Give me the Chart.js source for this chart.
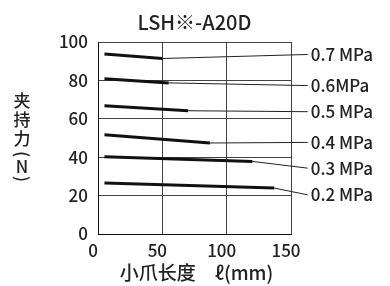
<!DOCTYPE html>
<html>
<head>
<meta charset="utf-8">
<script src="https://cdn.jsdelivr.net/npm/chart.js@4"></script>
<style>
html,body{margin:0;padding:0;background:#fff;}
#wrap{width:390px;height:286px;position:relative;}
</style>
</head>
<body>
<div id="wrap"><canvas id="c" width="390" height="286"></canvas></div>
<script>
// ---- data ----
const chartTitle = 'LSH※-A20D';
const xTitle = '小爪长度　ℓ(mm)';
const yTitleChars = ['夹', '持', '力', '(', 'N', ')'];
const pressureLabels = ['0.7 MPa', '0.6MPa', '0.5 MPa', '0.4 MPa', '0.3 MPa', '0.2 MPa'];
const startLength = [5, 5, 5, 5, 5, 5];
const endLength = [50, 55, 70, 87, 120, 137];
const startForce = [93.8, 80.9, 66.8, 51.7, 40.2, 26.5];
const endForce = [91.4, 78.7, 64.2, 47.4, 37.8, 23.9];
const labelLength = [163, 163, 163, 163, 163, 163];
const labelForce = [93.5, 77.3, 63.7, 47.7, 34.3, 20.4];
const xTicks = [0, 50, 100, 150];
const yTicks = [0, 20, 40, 60, 80, 100];

const FONT = "'Noto Sans CJK SC', 'Noto Sans', sans-serif";

const datasets = [];
pressureLabels.forEach((lab, i) => {
  datasets.push({
    label: lab,
    data: [{x: startLength[i], y: startForce[i]}, {x: endLength[i], y: endForce[i]}],
    borderColor: '#111', borderWidth: 3, pointRadius: 0, showLine: true, clip: false,
    borderCapStyle: 'butt'
  });
  datasets.push({
    label: lab + ' leader',
    data: [{x: endLength[i], y: endForce[i]}, {x: labelLength[i], y: labelForce[i]}],
    borderColor: '#222', borderWidth: 1, pointRadius: 0, showLine: true, clip: false
  });
});

const textPlugin = {
  id: 'texts',
  afterDraw(chart) {
    const ctx = chart.ctx;
    const xs = chart.scales.x, ys = chart.scales.y;
    const ca = chart.chartArea;
    ctx.save();
    ctx.fillStyle = '#222';
    ctx.textBaseline = 'middle';
    // title
    ctx.font = '500 20px ' + FONT;
    ctx.textAlign = 'center';
    ctx.fillText(chartTitle, (ca.left + ca.right) / 2, 22);
    // x title
    ctx.font = '500 19px ' + FONT;
    ctx.fillText(xTitle, (ca.left + ca.right) / 2 + 2, 273);
    // y title (vertical, upright chars; parentheses turned)
    ctx.font = '500 17px ' + FONT;
    const yPos = [101, 120, 139, 154, 167, 179];
    yTitleChars.forEach((ch, k) => {
      if (ch === '(' || ch === ')') {
        ctx.save();
        ctx.translate(22, yPos[k]);
        ctx.rotate(Math.PI / 2);
        ctx.fillText(ch, 0, 0);
        ctx.restore();
      } else {
        ctx.fillText(ch, 22, yPos[k]);
      }
    });
    // pressure labels
    ctx.font = '500 17px ' + FONT;
    ctx.textAlign = 'left';
    pressureLabels.forEach((lab, i) => {
      ctx.fillText(lab, xs.getPixelForValue(labelLength[i]) + 3, ys.getPixelForValue(labelForce[i]));
    });
    ctx.restore();
  }
};

new Chart(document.getElementById('c'), {
  type: 'scatter',
  data: { datasets },
  options: {
    responsive: false,
    animation: false,
    events: [],
    layout: { padding: { left: 0, right: 99, top: 42, bottom: 0 } },
    plugins: { legend: { display: false }, tooltip: { enabled: false }, title: { display: false } },
    scales: {
      x: {
        type: 'linear', min: 0, max: 150,
        afterBuildTicks: (s) => { s.ticks = xTicks.map(v => ({value: v})); },
        afterFit: (s) => { s.height = 52; },
        grid: { color: '#444', lineWidth: 1, drawTicks: false },
        border: { color: '#111', width: 1 },
        ticks: { color: '#222', font: { family: FONT, size: 17, weight: '500' }, padding: 6, labelOffset: -5, maxRotation: 0 }
      },
      y: {
        type: 'linear', min: 0, max: 100,
        afterBuildTicks: (s) => { s.ticks = yTicks.map(v => ({value: v})); },
        afterFit: (s) => { s.width = 98; },
        grid: { color: '#444', lineWidth: 1, drawTicks: false },
        border: { color: '#111', width: 1 },
        ticks: { color: '#222', font: { family: FONT, size: 17, weight: '500' }, padding: 10 }
      }
    }
  },
  plugins: [textPlugin]
});
</script>
</body>
</html>
